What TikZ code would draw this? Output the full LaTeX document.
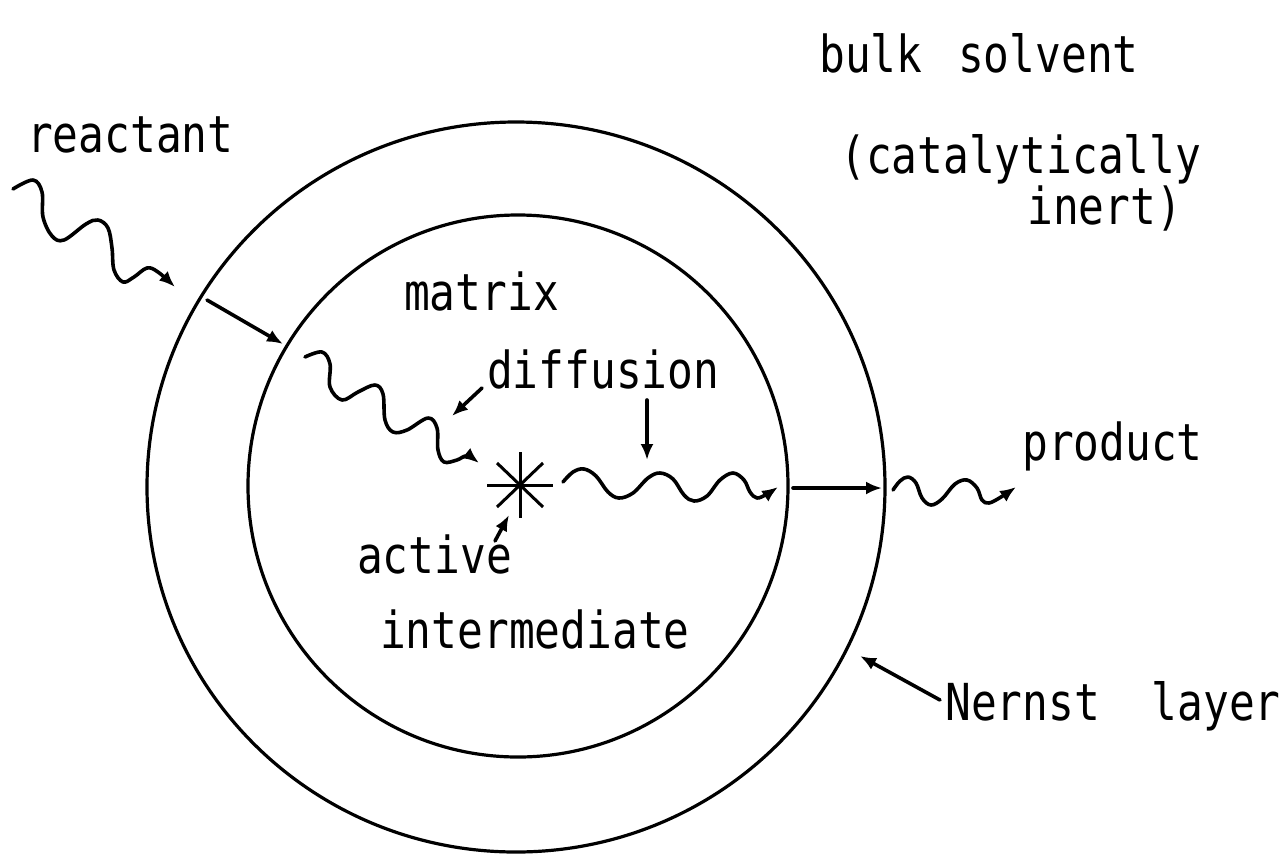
\documentclass[tikz,border=0pt]{standalone}
\usepackage{fontspec}
\newfontfamily\plotfont[FakeStretch=0.84]{DejaVu Sans Mono}
\usetikzlibrary{arrows.meta,shapes.geometric,calc}
\begin{document}
\begin{tikzpicture}[x=1pt,y=-1pt,
  lbl/.style={anchor=base west,inner sep=0pt,font=\plotfont\fontsize{51}{60}\selectfont},
  ring/.style={draw,line width=3.2pt},
  arr/.style={line width=3.6pt,line cap=round,-{Latex[length=16pt,width=13pt]}},
  wave/.style={arr,line join=round},
  star/.style={line width=3pt}]
\useasboundingbox (0,0) rectangle (1282,855);
% rings
\draw[ring] (516,487) ellipse [x radius=369pt, y radius=365pt];
\draw[ring] (518,486) ellipse [x radius=270pt, y radius=271pt];
% labels
\node[lbl] (reactant) at (27,152) {reactant};
\node[lbl] (bulk) at (819,72) {bulk\hspace{10pt} solvent};
\node[lbl] (cat) at (840,173) {(catalytically};
\node[lbl] (inert) at (1027,224) {inert)};
\node[lbl] (matrix) at (404,310) {matrix};
\node[lbl] (diff) at (487,388) {diffusion};
\node[lbl] (product) at (1022,460) {product};
\node[lbl] (active) at (357,573) {active};
\node[lbl] (inter) at (380,648) {intermediate};
\node[lbl] (nernst) at (945,720) {Nernst\hspace{26pt} layer};
% asterisk (active intermediate)
\coordinate (ai) at (520,485);
\draw[star] ($(ai)+(-33,0)$) -- ($(ai)+(33,0)$);
\draw[star] ($(ai)+(0,-33)$) -- ($(ai)+(0,33)$);
\draw[star] ($(ai)+(-23,-22)$) -- ($(ai)+(23,22)$);
\draw[star] ($(ai)+(-23,22)$) -- ($(ai)+(23,-22)$);
% reactant wave
\draw[wave] plot[smooth,tension=0.6] coordinates {(13,189) (33,180) (42,192) (43,217) (52,236) (64,240) (86,224) (98,220) (108,228) (112,248) (114,270) (123,282) (134,277) (147,268) (158,272) (175,287)};
% straight arrow outer -> inner boundary
\coordinate (o1) at (207,300);
\coordinate (i1) at (283,344);
\draw[arr] (o1) -- (i1);
% matrix diffusion wave
\draw[wave] plot[smooth,tension=0.6] coordinates {(305,357) (322,352) (330,364) (330,387) (342,400) (358,392) (375,385) (383,394) (385,420) (393,432) (407,430) (428,418) (437,428) (438,450) (444,462) (457,460) (467,456) (479,463)};
% diffusion label arrows
\coordinate (d1) at (482,388);
\coordinate (d2) at (452,416);
\draw[arr] (d1) -- (d2);
\coordinate (d3) at (647,400);
\coordinate (d4) at (647,460);
\draw[arr] (d3) -- (d4);
% wave to inner boundary
\draw[wave] plot[smooth,tension=0.6] coordinates {(563,482) (573,472) (584,469) (596,476) (608,492) (619,498) (633,493) (648,478) (660,473) (673,479) (684,495) (694,501) (707,496) (720,480) (733,473) (744,480) (750,492) (757,498) (767,494) (778,487)};
% straight arrow inner -> outer
\coordinate (i2) at (793,488);
\coordinate (o2) at (882,488);
\draw[arr] (i2) -- (o2);
% product wave
\draw[wave] plot[smooth,tension=0.6] coordinates {(893,490) (900,481) (908,477) (916,483) (922,498) (931,505) (942,499) (955,484) (967,480) (977,488) (982,500) (989,503) (1001,497) (1016,487)};
% active intermediate arrow
\coordinate (a1) at (495,541);
\coordinate (a2) at (509,515);
\draw[arr] (a1) -- (a2);
% Nernst layer arrow
\coordinate (n1) at (940,700);
\coordinate (n2) at (860,656);
\draw[arr] (n1) -- (n2);
\end{tikzpicture}
\end{document}
